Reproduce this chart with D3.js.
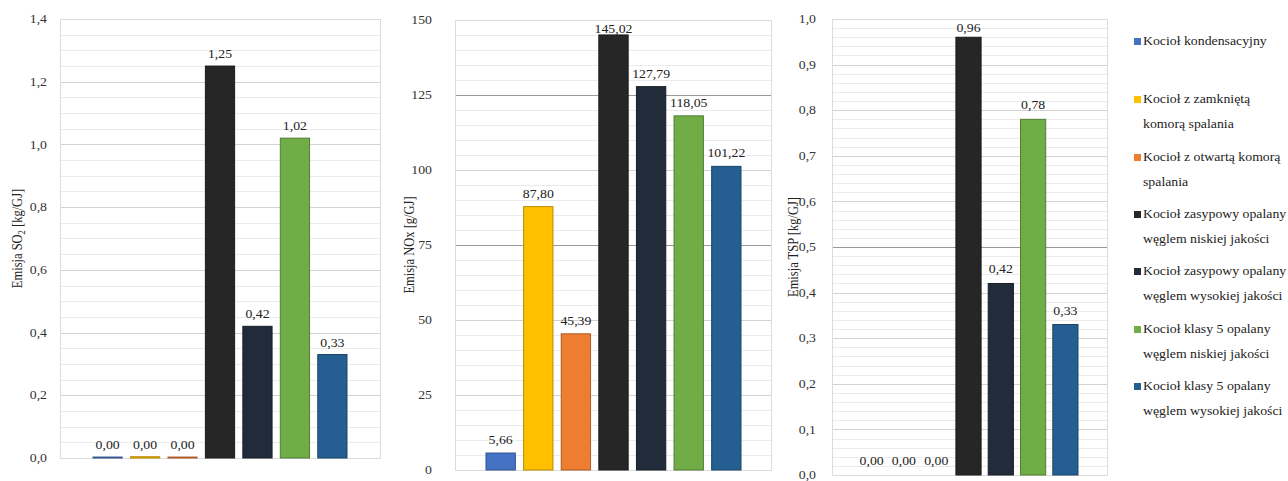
<!DOCTYPE html>
<html><head><meta charset="utf-8">
<script src="https://cdn.jsdelivr.net/npm/d3@7"></script>
<style>html,body{margin:0;padding:0;background:#fff;}svg{display:block;} text{font-family:"Liberation Serif", serif;}</style>
</head><body>
<svg id="chart" width="1288" height="481"></svg>
<script>
// ---------- DATA ----------
const categories = [
  "Kocioł kondensacyjny",
  "Kocioł z zamkniętą komorą spalania",
  "Kocioł z otwartą komorą spalania",
  "Kocioł zasypowy opalany węglem niskiej jakości",
  "Kocioł zasypowy opalany węglem wysokiej jakości",
  "Kocioł klasy 5 opalany węglem niskiej jakości",
  "Kocioł klasy 5 opalany węglem wysokiej jakości"
];
const legendLines = [
  ["Kocioł kondensacyjny"],
  ["Kocioł z zamkniętą", "komorą spalania"],
  ["Kocioł z otwartą komorą", "spalania"],
  ["Kocioł zasypowy opalany", "węglem niskiej jakości"],
  ["Kocioł zasypowy opalany", "węglem wysokiej jakości"],
  ["Kocioł klasy 5 opalany", "węglem niskiej jakości"],
  ["Kocioł klasy 5 opalany", "węglem wysokiej jakości"]
];
const colors = ["#4472C4", "#FFC000", "#ED7D31", "#262626", "#212B39", "#70AD47", "#255E91"];

const so2Values = [0.003, 0.004, 0.003, 1.25, 0.42, 1.02, 0.33];
const noxValues = [5.66, 87.80, 45.39, 145.02, 127.79, 118.05, 101.22];
const tspValues = [0, 0, 0, 0.96, 0.42, 0.78, 0.33];

const so2Ticks = [0, 0.2, 0.4, 0.6, 0.8, 1.0, 1.2, 1.4];
const noxTicks = [0, 25, 50, 75, 100, 125, 150];
const tspTicks = [0, 0.1, 0.2, 0.3, 0.4, 0.5, 0.6, 0.7, 0.8, 0.9, 1.0];

const so2TickLabels = ["0,0", "0,2", "0,4", "0,6", "0,8", "1,0", "1,2", "1,4"];
const noxTickLabels = ["0", "25", "50", "75", "100", "125", "150"];
const tspTickLabels = ["0,0", "0,1", "0,2", "0,3", "0,4", "0,5", "0,6", "0,7", "0,8", "0,9", "1,0"];

// ---------- RENDER ----------
const svg = d3.select("#chart");
const FONT = "Liberation Serif";
const SX = 1.2;
const fmt2 = v => d3.format(".2f")(v).replace(".", ",");

function txt(g, x, y, s, opts = {}) {
  const t = g.append("text")
    .attr("transform", `translate(${x},${y}) scale(${opts.sx || SX},1)`)
    .attr("font-family", FONT)
    .attr("font-size", opts.size || 11.5)
    .attr("fill", opts.fill || "#333")
    .attr("text-anchor", opts.anchor || "start")
    .text(s);
  return t;
}

function drawPanel(cfg) {
  const g = svg.append("g");
  const maxV = cfg.ticks[cfg.ticks.length - 1];
  const y = d3.scaleLinear().domain([0, maxV]).range([cfg.bottom, cfg.top]);
  const x = d3.scaleBand().domain(categories).range([cfg.barL, cfg.barR]).paddingInner(0.22).paddingOuter(0);

  const minor = d3.range(0, maxV + cfg.minor / 2, cfg.minor);
  g.append("g").selectAll("line").data(minor).join("line")
    .attr("x1", cfg.left).attr("x2", cfg.right)
    .attr("y1", d => Math.round(y(d)) + 0.5).attr("y2", d => Math.round(y(d)) + 0.5)
    .attr("stroke", "#ebebeb").attr("stroke-width", 1);
  g.append("g").selectAll("line").data(cfg.ticks).join("line")
    .attr("x1", cfg.left).attr("x2", cfg.right)
    .attr("y1", d => Math.round(y(d)) + 0.5).attr("y2", d => Math.round(y(d)) + 0.5)
    .attr("stroke", d => cfg.emph.includes(d) ? "#9a9a9a" : "#d2d2d2").attr("stroke-width", 1);
  g.append("rect").attr("x", cfg.left + 0.5).attr("y", cfg.top + 0.5)
    .attr("width", cfg.right - cfg.left).attr("height", cfg.bottom - cfg.top)
    .attr("fill", "none").attr("stroke", "#dcdcdc");

  const axis = d3.axisLeft(y).tickValues(cfg.ticks).tickSize(0)
    .tickFormat((d, i) => cfg.tickLabels[i]);
  const ag = g.append("g").attr("transform", `translate(${cfg.tickX},0)`).call(axis);
  ag.select(".domain").remove();
  ag.attr("font-family", null).attr("font-size", null);
  ag.selectAll("text")
    .attr("x", 0).attr("font-family", FONT).attr("font-size", 11.5)
    .attr("fill", "#333")
    .attr("transform", `scale(${SX},1)`)
    .attr("text-anchor", "end");

  g.append("g").selectAll("rect").data(cfg.values).join("rect")
    .attr("x", (d, i) => x(categories[i]))
    .attr("width", x.bandwidth())
    .attr("y", d => y(d))
    .attr("height", d => cfg.bottom - y(d))
    .attr("fill", (d, i) => colors[i])
    .attr("stroke", (d, i) => d > 0 ? d3.color(colors[i]).darker(0.9) : "none")
    .attr("stroke-width", 1);

  cfg.values.forEach((v, i) => {
    const cx = x(categories[i]) + x.bandwidth() / 2;
    const by = Math.max(y(v) - cfg.labelOff, cfg.top + 13);
    txt(g, cx, by, fmt2(v), { anchor: "middle", size: 11.5, fill: "#222" });
  });

  const cy = (cfg.top + cfg.bottom) / 2;
  const t = g.append("text")
    .attr("transform", `translate(${cfg.titleX},${cy}) rotate(-90) scale(1,1.15)`)
    .attr("font-family", FONT).attr("font-size", 12.5).attr("fill", "#222")
    .attr("text-anchor", "middle");
  t.append("tspan").text(cfg.title[0]);
  if (cfg.title.length > 1) {
    t.append("tspan").attr("font-size", 8.5).attr("dy", 3).text(cfg.title[1]);
    t.append("tspan").attr("dy", -3).text(cfg.title[2]);
  }
}

drawPanel({
  values: so2Values, ticks: so2Ticks, tickLabels: so2TickLabels,
  left: 60, right: 380, top: 19, bottom: 458, barL: 93, barR: 347,
  tickX: 47, titleX: 22, minor: 0.05, emph: [], labelOff: 8,
  title: ["Emisja SO", "2", " [kg/GJ]"]
});
drawPanel({
  values: noxValues, ticks: noxTicks, tickLabels: noxTickLabels,
  left: 455, right: 771, top: 20, bottom: 470, barL: 486, barR: 741,
  tickX: 432, titleX: 414, minor: 5, emph: [125, 75], labelOff: 9,
  title: ["Emisja NOx [g/GJ]"]
});
drawPanel({
  values: tspValues, ticks: tspTicks, tickLabels: tspTickLabels,
  left: 832, right: 1107, top: 19, bottom: 475, barL: 859, barR: 1078,
  tickX: 816, titleX: 798, minor: 0.02, emph: [0.5], labelOff: 10,
  title: ["Emisja TSP [kg/GJ]"]
});

const lg = svg.append("g");
const legendY = [45, 103, 161, 218, 275, 333, 390];
legendLines.forEach((lines, i) => {
  lg.append("rect").attr("x", 1134).attr("y", legendY[i] - 7).attr("width", 7).attr("height", 7)
    .attr("fill", colors[i]);
  lines.forEach((s, j) => {
    txt(lg, 1143, legendY[i] + j * 25, s, { size: 12, sx: 1.15, fill: "#222" });
  });
});
</script>
</body></html>
